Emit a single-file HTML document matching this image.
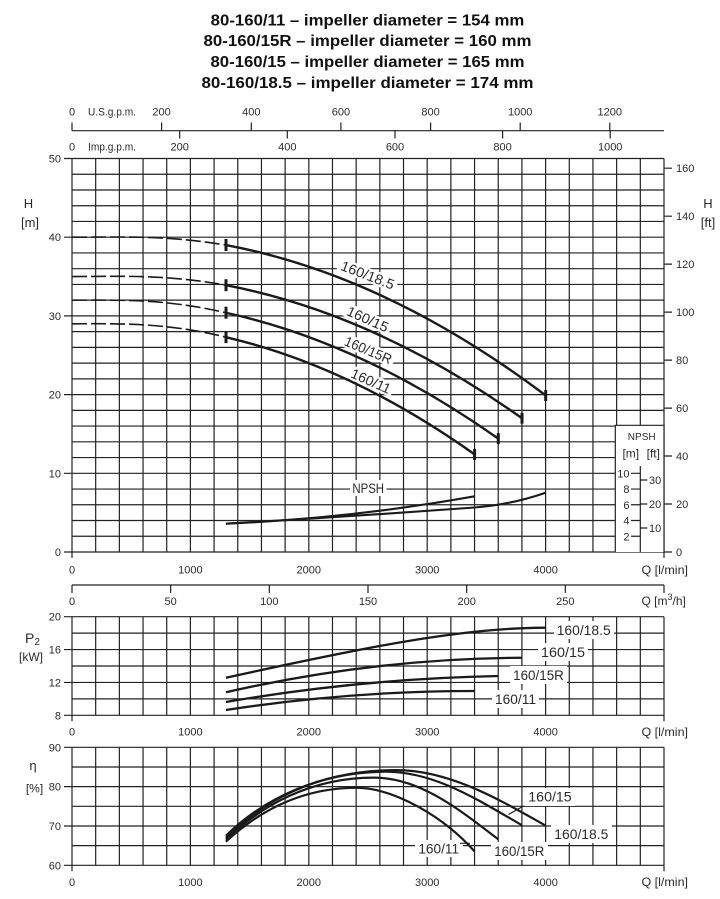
<!DOCTYPE html>
<html><head><meta charset="utf-8"><style>
html,body{margin:0;padding:0;background:#fff;}
svg{display:block;}
text{font-family:"Liberation Sans",Arial,sans-serif;fill:#2a2a2a;}
</style></head><body>
<svg width="720" height="899" viewBox="0 0 720 899" xmlns="http://www.w3.org/2000/svg">
<rect width="720" height="899" fill="#fff"/>

<!-- Title -->
<g font-weight="bold" font-size="16" text-anchor="middle">
<text x="367.5" y="25.7" style="fill:#111" textLength="313.6" lengthAdjust="spacingAndGlyphs">80-160/11 – impeller diameter = 154 mm</text>
<text x="367.5" y="45.9" style="fill:#111" textLength="328" lengthAdjust="spacingAndGlyphs">80-160/15R – impeller diameter = 160 mm</text>
<text x="367.5" y="66.9" style="fill:#111" textLength="314" lengthAdjust="spacingAndGlyphs">80-160/15 – impeller diameter = 165 mm</text>
<text x="367.5" y="88" style="fill:#111" textLength="332" lengthAdjust="spacingAndGlyphs">80-160/18.5 – impeller diameter = 174 mm</text>
</g>

<!-- Top gpm axes -->
<g stroke="#222" stroke-width="1.2" fill="none">
<path d="M72 130.7H664"/>
<path d="M72 122.5V130.7M161.6 122.5V130.7M251.3 122.5V130.7M340.9 122.5V130.7M430.6 122.5V130.7M520.2 122.5V130.7M609.8 122.5V130.7"/>
<path d="M179.7 130.7V138.5M287.3 130.7V138.5M395 130.7V138.5M502.6 130.7V138.5M610.2 130.7V138.5"/>
</g>
<g font-size="11" text-anchor="middle">
<text x="72" y="115.7">0</text>
<text x="161.6" y="115.7">200</text>
<text x="251.3" y="115.7">400</text>
<text x="340.9" y="115.7">600</text>
<text x="430.6" y="115.7">800</text>
<text x="520.2" y="115.7">1000</text>
<text x="609.8" y="115.7">1200</text>
<text x="72" y="150.7">0</text>
<text x="179.7" y="150.7">200</text>
<text x="287.3" y="150.7">400</text>
<text x="395" y="150.7">600</text>
<text x="502.6" y="150.7">800</text>
<text x="610.2" y="150.7">1000</text>
</g>
<text x="88" y="115.7" font-size="11" textLength="48" lengthAdjust="spacingAndGlyphs">U.S.g.p.m.</text>
<text x="88" y="150.7" font-size="11" textLength="48" lengthAdjust="spacingAndGlyphs">Imp.g.p.m.</text>

<!-- H chart grid -->
<g stroke="#222" stroke-width="1.2" fill="none">
<path d="M72 158.5v393.5m23.68-393.5v393.5m23.68-393.5v393.5m23.68-393.5v393.5m23.68-393.5v393.5m23.68-393.5v393.5m23.68-393.5v393.5m23.68-393.5v393.5m23.68-393.5v393.5m23.68-393.5v393.5m23.68-393.5v393.5m23.68-393.5v393.5m23.68-393.5v393.5m23.68-393.5v393.5m23.68-393.5v393.5m23.68-393.5v393.5m23.68-393.5v393.5m23.68-393.5v393.5m23.68-393.5v393.5m23.68-393.5v393.5m23.68-393.5v393.5m23.68-393.5v393.5m23.68-393.5v393.5m23.68-393.5v393.5m23.68-393.5v393.5m23.68-393.5v393.5"/>
<path d="M72 158.5h592m-592 15.74h592m-592 15.74h592m-592 15.74h592m-592 15.74h592m-592 15.74h592m-592 15.74h592m-592 15.74h592m-592 15.74h592m-592 15.74h592m-592 15.74h592m-592 15.74h592m-592 15.74h592m-592 15.74h592m-592 15.74h592m-592 15.74h592m-592 15.74h592m-592 15.74h592m-592 15.74h592m-592 15.74h592m-592 15.74h592m-592 15.74h592m-592 15.74h592m-592 15.74h592m-592 15.74h592m-592 15.74h592"/>
<path d="M64 158.5H72M64 237.2H72M64 315.9H72M64 394.6H72M64 473.3H72M64 552H72"/>
<path d="M664 168.2h8M664 216.2h8M664 264.1h8M664 312.1h8M664 360.1h8M664 408.1h8M664 456h8M664 504h8M664 552h8"/>
<path d="M72 552v6M664 552v6"/>
</g>
<g font-size="11" text-anchor="end">
<text x="61" y="162.5">50</text>
<text x="61" y="241.2">40</text>
<text x="61" y="319.9">30</text>
<text x="61" y="398.6">20</text>
<text x="61" y="477.3">10</text>
<text x="61" y="556">0</text>
</g>
<g font-size="11">
<text x="676" y="172.2">160</text>
<text x="676" y="220.2">140</text>
<text x="676" y="268.1">120</text>
<text x="676" y="316.1">100</text>
<text x="676" y="364.1">80</text>
<text x="676" y="412.1">60</text>
<text x="676" y="460">40</text>
<text x="676" y="508">20</text>
<text x="676" y="556">0</text>
</g>
<g font-size="13" text-anchor="middle">
<text x="28.5" y="208">H</text>
<text x="30" y="227">[m]</text>
<text x="708" y="208">H</text>
<text x="708" y="227">[ft]</text>
</g>
<g font-size="11" text-anchor="middle">
<text x="72" y="573.3">0</text>
<text x="190.4" y="573.3">1000</text>
<text x="308.8" y="573.3">2000</text>
<text x="427.2" y="573.3">3000</text>
<text x="545.6" y="573.3">4000</text>
</g>
<text x="641.5" y="574" font-size="12" textLength="46.5" lengthAdjust="spacingAndGlyphs">Q [l/min]</text>

<!-- NPSH inset -->
<rect x="615.3" y="425.3" width="48.7" height="126.7" fill="#fff"/>
<g stroke="#222" stroke-width="1.2" fill="none">
<path d="M615.3 552V425.3H664V552"/>
<path d="M640.3 466V552"/>
<path d="M631 473.3H640.3M631 489.04H640.3M631 504.78H640.3M631 520.52H640.3M631 536.26H640.3"/>
<path d="M640.3 480h7M640.3 504h7M640.3 528h7"/>
</g>
<text x="641.7" y="440" font-size="10" text-anchor="middle">NPSH</text>
<text x="630.8" y="457.5" font-size="12" text-anchor="middle">[m]</text>
<text x="653.3" y="457.5" font-size="12" text-anchor="middle">[ft]</text>
<g font-size="11" text-anchor="end">
<text x="629.5" y="477.3">10</text>
<text x="629.5" y="493">8</text>
<text x="629.5" y="508.8">6</text>
<text x="629.5" y="524.5">4</text>
<text x="629.5" y="540.3">2</text>
</g>
<g font-size="11">
<text x="649" y="484">30</text>
<text x="649" y="508">20</text>
<text x="649" y="532">10</text>
</g>

<!-- H curve label boxes -->
<g fill="#fff">
<rect x="-31" y="-7" width="62" height="14" transform="translate(367.7,275) rotate(21)"/>
<rect x="-25" y="-7" width="50" height="14" transform="translate(367.7,319) rotate(24)"/>
<rect x="-28" y="-7" width="56" height="14" transform="translate(368.3,350) rotate(23)"/>
<rect x="-24" y="-7" width="48" height="14" transform="translate(371,381) rotate(24)"/>
<rect x="350" y="480" width="36.5" height="16"/>
</g>

<!-- H curves -->
<g fill="none" stroke="#1a1a1a">
<g stroke-width="1.6" stroke-dasharray="15 4">
<path d="M72 237.2C120 237.2 165 234.9 225.92 245.08"/>
<path d="M72 276.55C120 276.55 165 274 225.92 285.21"/>
<path d="M72 300.16C120 300.16 165 298.5 225.92 312.74"/>
<path d="M72 323.77C120 323.77 165 322.3 225.92 337.15"/>
</g>
<g stroke-width="2.4">
<path d="M225.92 245.08Q385.76 275.02 545.6 395.39"/>
<path d="M225.92 285.21Q373.92 313.43 521.92 418.18"/>
<path d="M225.92 312.74Q362.08 342.59 498.24 438.62"/>
<path d="M225.92 337.15Q350.24 366.24 474.56 454.4"/>
</g>
<g stroke-width="2.1">
<path d="M225.92 523.67Q350.24 518.47 474.56 496.28"/>
<path d="M225.92 523.67Q350.24 516.5 474.56 507.5Q510 504.93 545.6 492.7"/>
</g>
</g>
<g fill="#1a1a1a">
<rect x="224.5" y="239" width="3" height="12"/>
<rect x="224.5" y="279.2" width="3" height="12"/>
<rect x="224.5" y="306.7" width="3" height="12"/>
<rect x="224.5" y="331.1" width="3" height="12"/>
<rect x="544.2" y="390" width="3" height="11"/>
<rect x="520.5" y="412.7" width="3" height="11"/>
<rect x="496.8" y="433.1" width="3" height="11"/>
<rect x="473.1" y="448.9" width="3" height="11"/>
</g>
<g font-size="14" text-anchor="middle">
<text x="0" y="5" transform="translate(367.7,275) rotate(21)" textLength="56" lengthAdjust="spacingAndGlyphs">160/18.5</text>
<text x="0" y="5" transform="translate(367.7,319) rotate(24)" textLength="44" lengthAdjust="spacingAndGlyphs">160/15</text>
<text x="0" y="5" transform="translate(368.3,350) rotate(23)" textLength="50" lengthAdjust="spacingAndGlyphs">160/15R</text>
<text x="0" y="5" transform="translate(371,381) rotate(24)" textLength="42" lengthAdjust="spacingAndGlyphs">160/11</text>
<text x="368.2" y="493" textLength="31.7" lengthAdjust="spacingAndGlyphs">NPSH</text>
</g>

<!-- m3/h axis -->
<g stroke="#222" stroke-width="1.2" fill="none">
<path d="M72 585H664"/>
<path d="M72 585v8M170.67 585v8M269.33 585v8M368 585v8M466.67 585v8M565.33 585v8M664 585v8"/>
</g>
<g font-size="11" text-anchor="middle">
<text x="72" y="605">0</text>
<text x="170.67" y="605">50</text>
<text x="269.33" y="605">100</text>
<text x="368" y="605">150</text>
<text x="466.67" y="605">200</text>
<text x="565.33" y="605">250</text>
</g>
<text x="641.5" y="605" font-size="12">Q [m<tspan font-size="9" dy="-5">3</tspan><tspan dy="5">/h]</tspan></text>

<!-- Power chart grid -->
<g stroke="#222" stroke-width="1.2" fill="none">
<path d="M72 616.7v98.6m23.68-98.6v98.6m23.68-98.6v98.6m23.68-98.6v98.6m23.68-98.6v98.6m23.68-98.6v98.6m23.68-98.6v98.6m23.68-98.6v98.6m23.68-98.6v98.6m23.68-98.6v98.6m23.68-98.6v98.6m23.68-98.6v98.6m23.68-98.6v98.6m23.68-98.6v98.6m23.68-98.6v98.6m23.68-98.6v98.6m23.68-98.6v98.6m23.68-98.6v98.6m23.68-98.6v98.6m23.68-98.6v98.6m23.68-98.6v98.6m23.68-98.6v98.6m23.68-98.6v98.6m23.68-98.6v98.6m23.68-98.6v98.6m23.68-98.6v98.6"/>
<path d="M72 616.7h592m-592 16.433h592m-592 16.433h592m-592 16.433h592m-592 16.433h592m-592 16.433h592m-592 16.433h592"/>
<path d="M64 616.7H72M64 649.56H72M64 682.42H72M64 715.3H72"/>
<path d="M72 715.3v6M664 715.3v6"/>
</g>
<g font-size="11" text-anchor="end">
<text x="61" y="620.7">20</text>
<text x="61" y="653.6">16</text>
<text x="61" y="686.4">12</text>
<text x="61" y="719.3">8</text>
</g>
<text x="25" y="643" font-size="14">P<tspan font-size="10" dy="2">2</tspan></text>
<text x="31" y="661" font-size="12" text-anchor="middle">[kW]</text>
<g font-size="11" text-anchor="middle">
<text x="72" y="735.5">0</text>
<text x="190.4" y="735.5">1000</text>
<text x="308.8" y="735.5">2000</text>
<text x="427.2" y="735.5">3000</text>
<text x="545.6" y="735.5">4000</text>
</g>
<text x="641.5" y="736" font-size="12" textLength="46.5" lengthAdjust="spacingAndGlyphs">Q [l/min]</text>

<!-- Power label boxes -->
<g fill="#fff">
<rect x="554" y="621" width="60" height="18"/>
<rect x="538" y="643" width="50" height="18"/>
<rect x="510" y="666" width="57" height="18"/>
<rect x="492" y="690" width="47" height="18"/>
</g>
<g fill="none" stroke="#1a1a1a" stroke-width="2.3">
<path d="M225.92 677.73C360 648.4 460 627.67 545.6 627.67"/>
<path d="M225.92 692.28Q373.92 658.46 521.92 657.76"/>
<path d="M225.92 701.98Q362.08 678.72 498.24 676.01"/>
<path d="M225.92 709.96Q350.24 690.97 474.56 690.97"/>
</g>
<g font-size="14" text-anchor="middle">
<text x="583.7" y="635" textLength="54" lengthAdjust="spacingAndGlyphs">160/18.5</text>
<text x="563" y="657" textLength="44" lengthAdjust="spacingAndGlyphs">160/15</text>
<text x="538.5" y="680" textLength="50.7" lengthAdjust="spacingAndGlyphs">160/15R</text>
<text x="515.5" y="704" textLength="41" lengthAdjust="spacingAndGlyphs">160/11</text>
</g>

<!-- Efficiency chart grid -->
<g stroke="#222" stroke-width="1.2" fill="none">
<path d="M72 747.3v118m23.68-118v118m23.68-118v118m23.68-118v118m23.68-118v118m23.68-118v118m23.68-118v118m23.68-118v118m23.68-118v118m23.68-118v118m23.68-118v118m23.68-118v118m23.68-118v118m23.68-118v118m23.68-118v118m23.68-118v118m23.68-118v118m23.68-118v118m23.68-118v118m23.68-118v118m23.68-118v118m23.68-118v118m23.68-118v118m23.68-118v118m23.68-118v118m23.68-118v118"/>
<path d="M72 747.3h592m-592 19.667h592m-592 19.667h592m-592 19.667h592m-592 19.667h592m-592 19.667h592m-592 19.667h592"/>
<path d="M64 747.3H72M64 786.63H72M64 825.97H72M64 865.3H72"/>
<path d="M72 865.3v6M664 865.3v6"/>
</g>
<g font-size="11" text-anchor="end">
<text x="61" y="751.3">90</text>
<text x="61" y="790.6">80</text>
<text x="61" y="830">70</text>
<text x="61" y="869.3">60</text>
</g>
<text x="33" y="770" font-size="13" text-anchor="middle">η</text>
<text x="34.5" y="792.5" font-size="12" text-anchor="middle">[%]</text>
<g font-size="11" text-anchor="middle">
<text x="72" y="886">0</text>
<text x="190.4" y="886">1000</text>
<text x="308.8" y="886">2000</text>
<text x="427.2" y="886">3000</text>
<text x="545.6" y="886">4000</text>
</g>
<text x="641.5" y="886" font-size="12" textLength="46.5" lengthAdjust="spacingAndGlyphs">Q [l/min]</text>

<!-- Efficiency label boxes -->
<g fill="#fff">
<rect x="525" y="788" width="50" height="18"/>
<rect x="551" y="825" width="61" height="18"/>
<rect x="415" y="840" width="48" height="17"/>
<rect x="491" y="842" width="57" height="18"/>
</g>
<g fill="none" stroke="#1a1a1a" stroke-width="2.2">
<path d="M225.9 835.8C262 800 320 770.1 396.4 770.1C450 770.1 500 800 545.6 825.6"/>
<path d="M225.9 837.8C262 802 315 771.7 385.8 771.7C435 771.7 478 800 521.9 825.2"/>
<path d="M225.9 839.7C261 806 310 777.6 373.9 777.6C420 777.6 460 810 498.2 839.3"/>
<path d="M225.9 841.7C258 812 300 787.8 356.2 787.8C395 787.8 445 818 474.6 851.5"/>
</g>
<g stroke="#1a1a1a" stroke-width="1.1" fill="none">
<path d="M523.5 806L508.5 814.5"/>
<path d="M460 843.3H470"/>
</g>
<g font-size="14" text-anchor="middle">
<text x="550" y="801.7" textLength="43.4" lengthAdjust="spacingAndGlyphs">160/15</text>
<text x="581.3" y="839" textLength="54" lengthAdjust="spacingAndGlyphs">160/18.5</text>
<text x="438.7" y="853.3" textLength="40.7" lengthAdjust="spacingAndGlyphs">160/11</text>
<text x="519.3" y="856" textLength="50" lengthAdjust="spacingAndGlyphs">160/15R</text>
</g>
</svg>
</body></html>
